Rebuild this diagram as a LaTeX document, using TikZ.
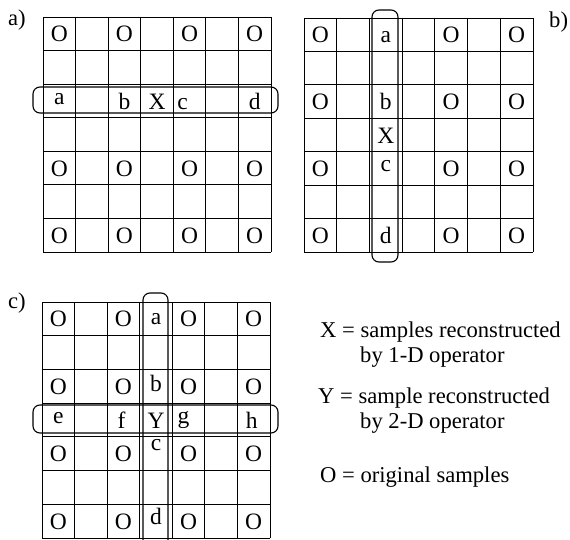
\documentclass[tikz,border=0pt]{standalone}
\usepackage{fontspec}
\setmainfont{Liberation Serif}
\begin{document}
\begin{tikzpicture}[x=1pt,y=-1pt,
  gridline/.style={line width=0.8pt},
  ring/.style={line width=1.1pt,rounded corners=7pt},
  lbl/.style={inner sep=0pt,anchor=base,font=\fontsize{23.5}{27}\selectfont},
  paneltag/.style={inner sep=0pt,anchor=base west,font=\fontsize{22.6}{26}\selectfont},
  legend/.style={inner sep=0pt,anchor=base west,font=\fontsize{22.6}{26}\selectfont}]
\useasboundingbox (0,0) rectangle (570,540);
% ---------------- grid a ----------------
\begin{scope}[shift={(43,17)},x=32.571pt,y=-33.571pt]
  \foreach \k in {0,...,7} {
    \draw[gridline] (\k,0) -- (\k,7);
    \draw[gridline] (0,\k) -- (7,\k);
  }
  \foreach \r in {1,5,7} \foreach \c in {1,3,5,7}
    \node[lbl,yshift=-8pt] (aO\c\r) at (\c-0.5,\r-0.5) {O};
  \node[lbl,yshift=-4pt] (aa) at (0.5,2.5) {a};
  \node[lbl,yshift=-9pt] (ab) at (2.5,2.5) {b};
  \node[lbl,yshift=-9pt] (aX) at (3.5,2.5) {X};
  \node[lbl,yshift=-9pt,xshift=-7pt] (ac) at (4.5,2.5) {c};
  \node[lbl,yshift=-9pt] (ad) at (6.5,2.5) {d};
\end{scope}
\draw[ring] (33,87) rectangle (278,113);
\node[paneltag] (capa) at (8,26) {a)};
% ---------------- grid b ----------------
\begin{scope}[shift={(304,18)},x=32.714pt,y=-33.43pt]
  \foreach \k in {0,...,7} {
    \draw[gridline] (\k,0) -- (\k,7);
    \draw[gridline] (0,\k) -- (7,\k);
  }
  \foreach \r in {1,3,5,7} \foreach \c in {1,5,7}
    \node[lbl,yshift=-8pt] (bO\c\r) at (\c-0.5,\r-0.5) {O};
  \node[lbl,yshift=-8pt] (ba) at (2.5,0.5) {a};
  \node[lbl,yshift=-8pt] (bb) at (2.5,2.5) {b};
  \node[lbl,yshift=-8pt] (bX) at (2.5,3.5) {X};
  \node[lbl,yshift=-3pt] (bc) at (2.5,4.5) {c};
  \node[lbl,yshift=-8pt] (bd) at (2.5,6.5) {d};
\end{scope}
\draw[ring] (372,10) rectangle (398,262);
\node[paneltag] (capb) at (549,28) {b)};
% ---------------- grid c ----------------
\begin{scope}[shift={(42,302)},x=32.571pt,y=-33.714pt]
  \foreach \k in {0,...,7} {
    \draw[gridline] (\k,0) -- (\k,7);
    \draw[gridline] (0,\k) -- (7,\k);
  }
  \foreach \r in {1,3,5,7} \foreach \c in {1,3,5,7}
    \node[lbl,yshift=-8pt] (cO\c\r) at (\c-0.5,\r-0.5) {O};
  \node[lbl,yshift=-6pt] (ca) at (3.5,0.5) {a};
  \node[lbl,yshift=-5.5pt] (cb) at (3.5,2.5) {b};
  \node[lbl,yshift=3pt] (cc) at (3.5,4.5) {c};
  \node[lbl,yshift=-3pt] (cd) at (3.5,6.5) {d};
  \node[lbl,yshift=-3pt] (ce) at (0.5,3.5) {e};
  \node[lbl,yshift=-8pt,xshift=-2pt] (cf) at (2.5,3.5) {f};
  \node[lbl,yshift=-8pt] (cY) at (3.5,3.5) {Y};
  \node[lbl,yshift=-3pt,xshift=-5pt] (cg) at (4.5,3.5) {g};
  \node[lbl,yshift=-8pt,xshift=-2pt] (ch) at (6.5,3.5) {h};
\end{scope}
\draw[ring] (33,405) rectangle (278,433);
\draw[ring] (143,540) -- (143,293) -- (168,293) -- (168,540);
\node[paneltag] (capc) at (8,308) {c)};
% ---------------- legend ----------------
\node[legend] (l1) at (320,337) {X = samples reconstructed};
\node[legend] (l2) at (360,362) {by 1-D operator};
\node[legend] (l3) at (318,403) {Y = sample reconstructed};
\node[legend] (l4) at (360,428) {by 2-D operator};
\node[legend] (l5) at (320,482) {O = original samples};
\end{tikzpicture}
\end{document}
